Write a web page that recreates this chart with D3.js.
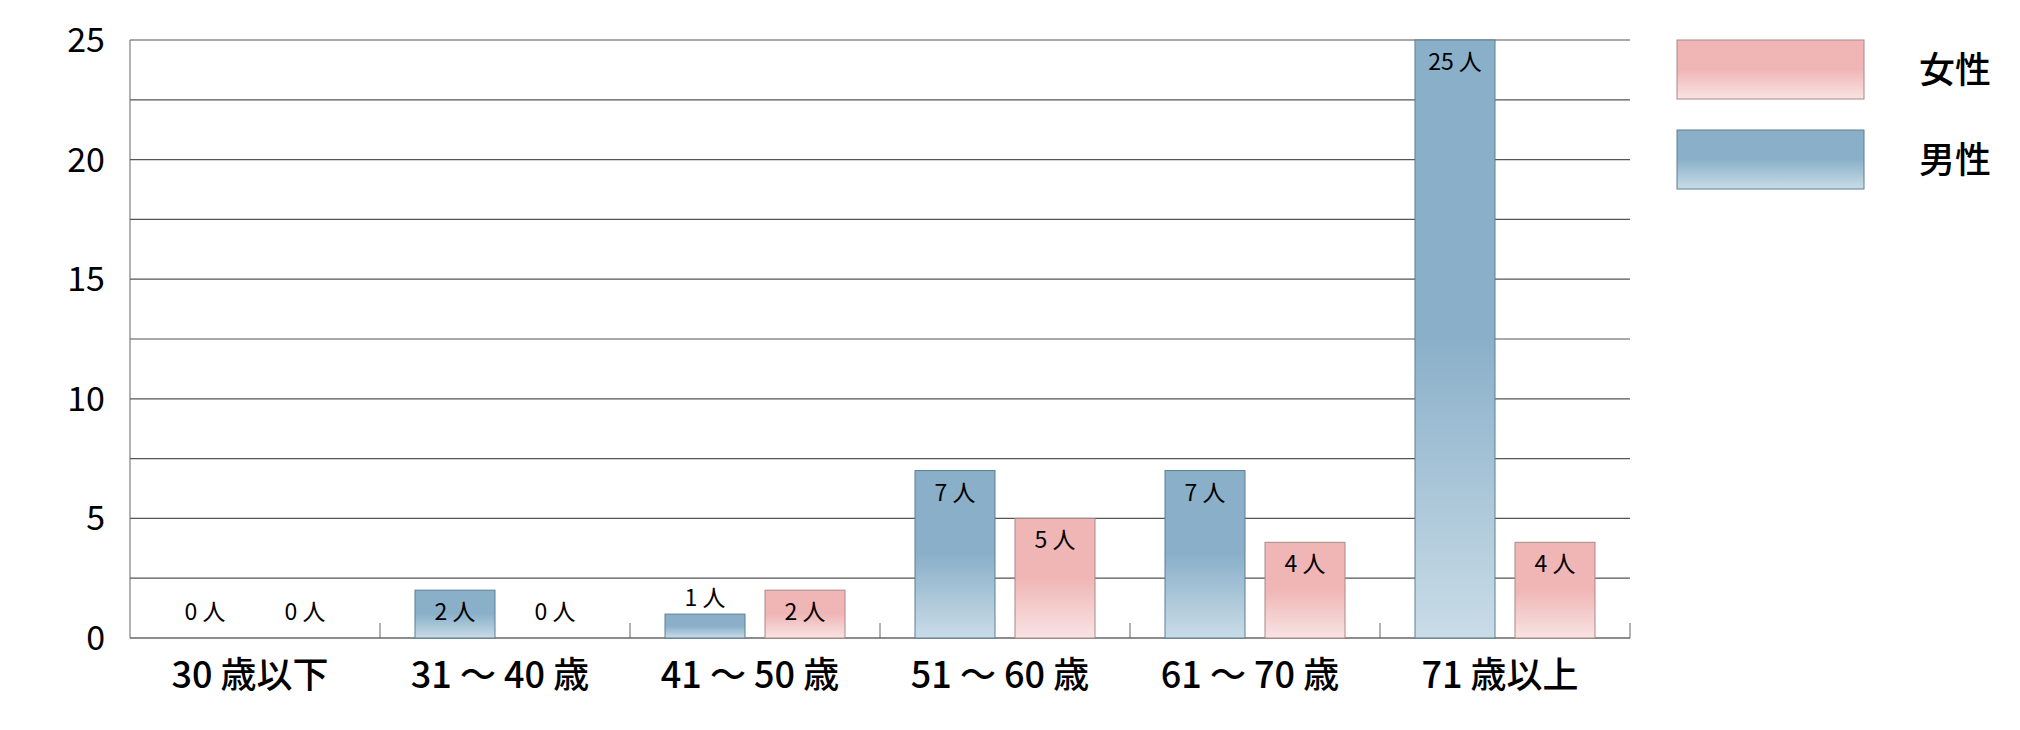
<!DOCTYPE html>
<html><head><meta charset="utf-8">
<script src="https://cdn.jsdelivr.net/npm/d3@7"></script>
<style>body{margin:0;background:#fff}svg{font-family:"Noto Sans CJK JP","Noto Sans",sans-serif}</style>
</head><body>
<script>
const categories = ["30 歳以下", "31 〜 40 歳", "41 〜 50 歳", "51 〜 60 歳", "61 〜 70 歳", "71 歳以上"];
const male = [0, 2, 1, 7, 7, 25];
const female = [0, 0, 2, 5, 4, 4];
const yTicks = [0, 5, 10, 15, 20, 25];
const gridValues = [2.5, 5, 7.5, 10, 12.5, 15, 17.5, 20, 22.5, 25];
const legendItems = [{name: "女性", key: "f"}, {name: "男性", key: "m"}];

const plotLeft = 130, plotRight = 1630, plotTop = 40, plotBottom = 638;
const svg = d3.select("body").append("svg").attr("width", 2020).attr("height", 730);

const defs = svg.append("defs");
function grad(id, c1, c2) {
  const g = defs.append("linearGradient").attr("id", id).attr("x1", 0).attr("y1", 0).attr("x2", 0).attr("y2", 1);
  g.append("stop").attr("offset", "0%").attr("stop-color", c1);
  g.append("stop").attr("offset", "50%").attr("stop-color", c1);
  g.append("stop").attr("offset", "100%").attr("stop-color", c2);
}
grad("gm", "#8ab0c9", "#c9dce7");
grad("gf", "#f0b6b6", "#f9e3e3");

const x = d3.scaleBand().domain(categories).range([plotLeft, plotRight]);
const y = d3.scaleLinear().domain([0, 25]).range([plotBottom, plotTop]);

svg.append("g").selectAll("line").data(gridValues).enter().append("line")
  .attr("x1", plotLeft).attr("x2", plotRight).attr("y1", d => y(d)).attr("y2", d => y(d))
  .attr("stroke", "#555").attr("stroke-width", 1.2);

svg.append("line").attr("x1", plotLeft).attr("x2", plotLeft).attr("y1", plotTop).attr("y2", plotBottom).attr("stroke", "#666");
svg.append("line").attr("x1", plotLeft).attr("x2", plotRight).attr("y1", plotBottom).attr("y2", plotBottom).attr("stroke", "#666").attr("stroke-width", 1.5);
svg.append("g").selectAll("line").data(categories).enter().append("line")
  .attr("x1", d => x(d) + x.bandwidth()).attr("x2", d => x(d) + x.bandwidth())
  .attr("y1", plotBottom - 15).attr("y2", plotBottom).attr("stroke", "#666");

svg.append("g").selectAll("text").data(yTicks).enter().append("text")
  .attr("x", 105).attr("y", d => y(d) + 12).attr("text-anchor", "end")
  .attr("font-size", 34).text(d => d);

svg.append("g").selectAll("text").data(categories).enter().append("text")
  .attr("x", d => x(d) + x.bandwidth() / 2 - 5).attr("y", 688).attr("text-anchor", "middle")
  .attr("font-size", 36).attr("font-weight", 500).text(d => d);

const bw = 80, off = 35, gap = 20;
const bars = [];
categories.forEach((c, i) => {
  bars.push({c, v: male[i], dx: off, fill: "url(#gm)", stroke: "#5d7f95"});
  bars.push({c, v: female[i], dx: off + bw + gap, fill: "url(#gf)", stroke: "#a88"});
});

svg.append("g").selectAll("rect").data(bars.filter(d => d.v > 0)).enter().append("rect")
  .attr("x", d => x(d.c) + d.dx).attr("width", bw)
  .attr("y", d => y(d.v)).attr("height", d => plotBottom - y(d.v))
  .attr("fill", d => d.fill).attr("stroke", d => d.stroke).attr("stroke-width", 1);

svg.append("g").selectAll("text").data(bars).enter().append("text")
  .attr("x", d => x(d.c) + d.dx + bw / 2).attr("text-anchor", "middle").attr("font-size", 23)
  .attr("y", d => d.v === 1 ? y(d.v) - 8 : y(Math.max(d.v, 2)) + 30)
  .text(d => d.v + " 人");

const lg = svg.append("g").selectAll("g").data(legendItems).enter().append("g")
  .attr("transform", (d, i) => `translate(1677,${40 + i * 90})`);
lg.append("rect").attr("width", 187).attr("height", 59)
  .attr("fill", d => d.key === "m" ? "url(#gm)" : "url(#gf)")
  .attr("stroke", d => d.key === "m" ? "#5d7f95" : "#a88");
lg.append("text").attr("x", 242).attr("y", 43).attr("font-size", 36).attr("font-weight", 500).text(d => d.name);
</script>
</body></html>
